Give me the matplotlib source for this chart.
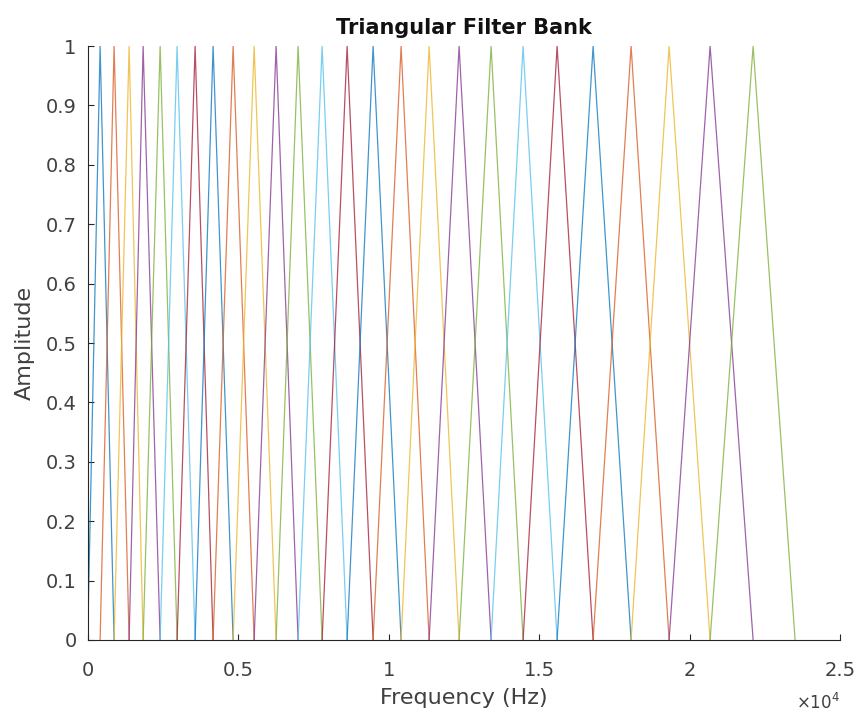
import numpy as np
import matplotlib
matplotlib.use('Agg')
import matplotlib.pyplot as plt

# band edges in Hz: left edge of first filter, peak of each filter, right edge of last
edges_hz = [0, 415, 880, 1379, 1844, 2409, 2973, 3571, 4169, 4834, 5532, 6262,
            6993, 7791, 8621, 9485, 10415, 11346, 12342, 13405, 14468, 15598,
            16794, 18056, 19319, 20681, 22110, 23505]

# MATLAB default line colour order
colors = ['#0072BD', '#D95319', '#EDB120', '#7E2F8E', '#77AC30', '#4DBEEE', '#A2142F']

xticks = [0, 5000, 10000, 15000, 20000, 25000]
xticklabels = ['0', '0.5', '1', '1.5', '2', '2.5']
yticks = [0, 0.1, 0.2, 0.3, 0.4, 0.5, 0.6, 0.7, 0.8, 0.9, 1]
yticklabels = ['0', '0.1', '0.2', '0.3', '0.4', '0.5', '0.6', '0.7', '0.8', '0.9', '1']

plt.rcParams['font.family'] = ['DejaVu Sans']
tc = '#404040'

fig = plt.figure(figsize=(8.59, 7.15), dpi=100)
ax = fig.add_axes([0.102, 0.105, 0.876, 0.8305])

n = len(edges_hz) - 2
for i in range(n):
    f = [edges_hz[i], edges_hz[i + 1], edges_hz[i + 2]]
    ax.plot(f, [0, 1, 0], color=colors[i % len(colors)], lw=0.9, alpha=0.75)

ax.set_xlim(0, 25000)
ax.set_ylim(0, 1)
ax.set_xticks(xticks)
ax.set_xticklabels(xticklabels)
ax.set_yticks(yticks)
ax.set_yticklabels(yticklabels)

for s in ['top', 'right']:
    ax.spines[s].set_visible(False)
for s in ['left', 'bottom']:
    ax.spines[s].set_color('#262626')
    ax.spines[s].set_linewidth(0.8)
ax.tick_params(direction='in', length=4, width=0.8, colors='#262626', labelcolor=tc,
               labelsize=14)
ax.tick_params(axis='x', pad=15)
ax.tick_params(axis='y', pad=8)

ax.set_title('Triangular Filter Bank', fontsize=15, fontweight='bold', color='#111111', pad=9)
ax.set_xlabel('Frequency (Hz)', fontsize=16, color=tc, labelpad=6)
ax.set_ylabel('Amplitude', fontsize=16, color=tc, labelpad=8)
ax.text(1.0, -0.106, r'$\times\mathregular{10^4}$', transform=ax.transAxes,
        ha='right', va='center', fontsize=12, color=tc)

fig.savefig('out.png', dpi=100)
